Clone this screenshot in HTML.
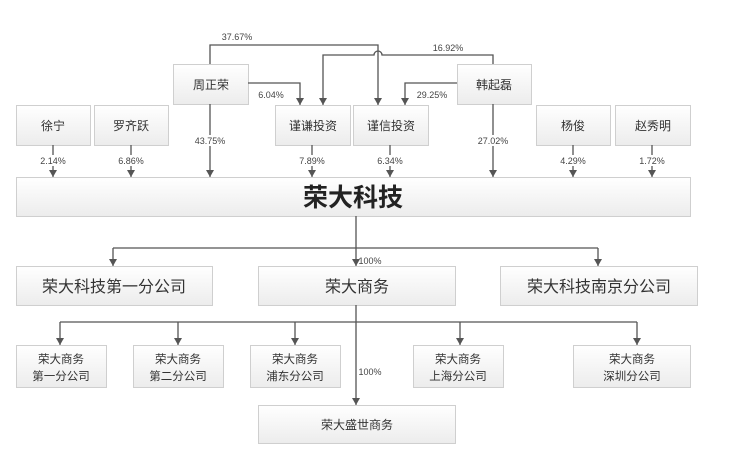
<!DOCTYPE html>
<html><head><meta charset="utf-8"><style>
body{margin:0;background:#fff;}
svg{display:block;font-family:"Liberation Sans","Noto Sans CJK SC",sans-serif;}
</style></head><body>
<svg width="750" height="456" viewBox="0 0 750 456" xmlns="http://www.w3.org/2000/svg">
<defs>
<linearGradient id="g" x1="0" y1="0" x2="0" y2="1"><stop offset="0" stop-color="#ffffff"/><stop offset="1" stop-color="#ececec"/></linearGradient>
<marker id="a" markerWidth="8" markerHeight="8" refX="7" refY="4" orient="auto" markerUnits="userSpaceOnUse"><path d="M0,0 L7,4 L0,8 z" fill="#555"/></marker>
</defs>
<rect width="750" height="456" fill="#fff"/>
<g fill="url(#g)" stroke="#cfcfcf" stroke-width="1">
<rect x="173.5" y="64.5" width="75" height="40"/>
<rect x="457.5" y="64.5" width="74" height="40"/>
<rect x="16.5" y="105.5" width="74" height="40"/>
<rect x="94.5" y="105.5" width="74" height="40"/>
<rect x="275.5" y="105.5" width="75" height="40"/>
<rect x="353.5" y="105.5" width="75" height="40"/>
<rect x="536.5" y="105.5" width="74" height="40"/>
<rect x="615.5" y="105.5" width="75" height="40"/>
<rect x="16.5" y="177.5" width="674" height="39"/>
<rect x="16.5" y="266.5" width="196" height="39"/>
<rect x="258.5" y="266.5" width="197" height="39"/>
<rect x="500.5" y="266.5" width="197" height="39"/>
<rect x="16.5" y="345.5" width="90" height="42"/>
<rect x="133.5" y="345.5" width="90" height="42"/>
<rect x="250.5" y="345.5" width="90" height="42"/>
<rect x="413.5" y="345.5" width="90" height="42"/>
<rect x="573.5" y="345.5" width="117" height="42"/>
<rect x="258.5" y="405.5" width="197" height="38"/>
</g>
<g stroke="#555" stroke-width="1.3" fill="none">
<path d="M210,64 V45 H378 V105" marker-end="url(#a)"/>
<path d="M493,64 V55 H382 a4,4 0 0 0 -8,0 H323 V105" marker-end="url(#a)"/>
<path d="M248,83 H300 V105" marker-end="url(#a)"/>
<path d="M457,83 H405 V105" marker-end="url(#a)"/>
<path d="M53,145 V177" marker-end="url(#a)"/>
<path d="M131,145 V177" marker-end="url(#a)"/>
<path d="M210,104 V177" marker-end="url(#a)"/>
<path d="M312,145 V177" marker-end="url(#a)"/>
<path d="M390,145 V177" marker-end="url(#a)"/>
<path d="M493,104 V177" marker-end="url(#a)"/>
<path d="M573,145 V177" marker-end="url(#a)"/>
<path d="M652,145 V177" marker-end="url(#a)"/>
<path d="M356,216 V266" marker-end="url(#a)"/>
<path d="M113,248 H598"/>
<path d="M113,248 V266" marker-end="url(#a)"/>
<path d="M598,248 V266" marker-end="url(#a)"/>
<path d="M356,305 V405" marker-end="url(#a)"/>
<path d="M60,322 H637"/>
<path d="M60,322 V345" marker-end="url(#a)"/>
<path d="M178,322 V345" marker-end="url(#a)"/>
<path d="M295,322 V345" marker-end="url(#a)"/>
<path d="M460,322 V345" marker-end="url(#a)"/>
<path d="M637,322 V345" marker-end="url(#a)"/>
</g>
<g fill="#fff">
<rect x="38" y="155" width="30" height="11"/>
<rect x="116" y="155" width="30" height="11"/>
<rect x="192" y="135" width="36" height="11"/>
<rect x="297" y="155" width="30" height="11"/>
<rect x="375" y="155" width="30" height="11"/>
<rect x="475" y="135" width="36" height="11"/>
<rect x="558" y="155" width="30" height="11"/>
<rect x="637" y="155" width="30" height="11"/>
</g>
<g font-size="9" fill="#444" text-anchor="middle">
<text x="237" y="40">37.67%</text>
<text x="448" y="51">16.92%</text>
<text x="271" y="98">6.04%</text>
<text x="432" y="98">29.25%</text>
<text x="53" y="164">2.14%</text>
<text x="131" y="164">6.86%</text>
<text x="210" y="144">43.75%</text>
<text x="312" y="164">7.89%</text>
<text x="390" y="164">6.34%</text>
<text x="493" y="144">27.02%</text>
<text x="573" y="164">4.29%</text>
<text x="652" y="164">1.72%</text>
<text x="370" y="264">100%</text>
<text x="370" y="375">100%</text>
</g>
<g font-size="12" fill="#333" text-anchor="middle">
<text x="211" y="89">周正荣</text>
<text x="494" y="89">韩起磊</text>
<text x="53" y="130">徐宁</text>
<text x="131" y="130">罗齐跃</text>
<text x="313" y="130">谨谦投资</text>
<text x="391" y="130">谨信投资</text>
<text x="573" y="130">杨俊</text>
<text x="653" y="130">赵秀明</text>
<text x="357" y="429">荣大盛世商务</text>
</g>
<text x="353" y="206" font-size="25" font-weight="bold" fill="#222" text-anchor="middle">荣大科技</text>
<g font-size="16" fill="#333" text-anchor="middle">
<text x="114" y="292">荣大科技第一分公司</text>
<text x="357" y="292">荣大商务</text>
<text x="599" y="292">荣大科技南京分公司</text>
</g>
<g font-size="11.5" fill="#333" text-anchor="middle">
<text x="61" y="363">荣大商务</text><text x="61" y="380">第一分公司</text>
<text x="178" y="363">荣大商务</text><text x="178" y="380">第二分公司</text>
<text x="295" y="363">荣大商务</text><text x="295" y="380">浦东分公司</text>
<text x="458" y="363">荣大商务</text><text x="458" y="380">上海分公司</text>
<text x="632" y="363">荣大商务</text><text x="632" y="380">深圳分公司</text>
</g>
</svg>
</body></html>
